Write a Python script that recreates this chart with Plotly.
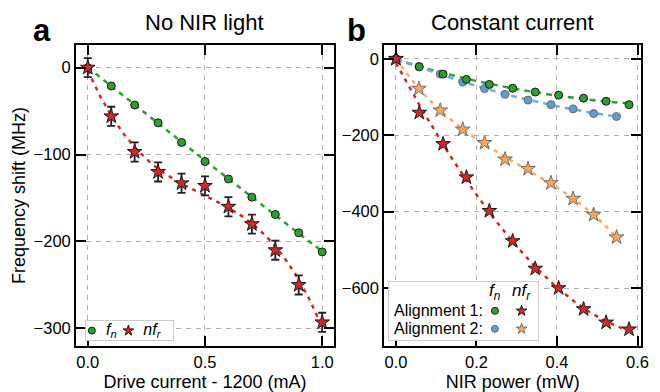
import numpy as np
import plotly.graph_objects as go

# ---------------- data: panel a (No NIR light) ----------------
drive_current = [0.0, 0.1, 0.2, 0.3, 0.4, 0.5, 0.6, 0.7, 0.8, 0.9, 1.0]
a_fn = [0, -21, -43, -63.5, -86, -108, -128, -149, -169, -190, -212]
a_nfr = [0, -56, -97, -120, -133, -136, -160, -180, -210, -250, -293]
a_nfr_err = [11, 11, 11, 11, 11, 11, 11, 11, 11, 11, 11]

# ---------------- data: panel b (Constant current) ----------------
b_power_1 = [0.0, 0.058, 0.117, 0.175, 0.232, 0.290, 0.346, 0.404, 0.466, 0.522, 0.579]
b_fn_1 = [0, -21, -40, -54, -67, -77, -87, -95, -103, -111, -120]
b_nfr_1 = [0, -141, -223, -310, -398, -477, -549, -600, -655, -690, -708]
b_power_2 = [0.0, 0.057, 0.110, 0.166, 0.220, 0.271, 0.328, 0.385, 0.440, 0.491, 0.548]
b_fn_2 = [0, -20, -40, -61, -78, -93, -108, -120, -131, -143, -151]
b_nfr_2 = [0, -78, -135, -185, -220, -263, -288, -325, -366, -408, -467]

# ---------------- ticks / text ----------------
a_xticks = [0.0, 0.5, 1.0]
a_xticklabels = ["0.0", "0.5", "1.0"]
a_yticks = [0, -100, -200, -300]
a_yticklabels = ["0", "\u2212100", "\u2212200", "\u2212300"]
b_xticks = [0.0, 0.2, 0.4, 0.6]
b_xticklabels = ["0.0", "0.2", "0.4", "0.6"]
b_yticks = [0, -200, -400, -600]
b_yticklabels = ["0", "\u2212200", "\u2212400", "\u2212600"]

legend_cols = ["f_n", "nf_r"]
legend_col_text = ["<i>f</i><sub><i>n</i></sub>", "<i>nf</i><sub><i>r</i></sub>"]
legend_rows = ["Alignment 1:", "Alignment 2:"]

# ---------------- colours ----------------
GREEN = "#2ca02c"
RED = "#d62728"
BLUE = "#5f9bd0"
ORANGE = "#ffa556"
BLUE_LINE = "#72acdb"
ORANGE_LINE = "#ffaa5e"

FONT = "Liberation Sans, Arial, sans-serif"


def fit_curve(x, y, deg):
    c = np.polyfit(x, y, deg)
    xs = np.linspace(min(x), max(x), 150)
    return xs, np.polyval(c, xs)


fig = go.Figure()

# ---------- panel a ----------
xs, ys = fit_curve(drive_current, a_fn, 2)
fig.add_trace(go.Scatter(x=xs, y=ys, mode="lines", xaxis="x", yaxis="y",
                         line=dict(color=GREEN, width=2.5, dash="5px,5px")))
xs, ys = fit_curve(drive_current, a_nfr, 3)
fig.add_trace(go.Scatter(x=xs, y=ys, mode="lines", xaxis="x", yaxis="y",
                         line=dict(color=RED, width=2.5, dash="4px,5px")))
fig.add_trace(go.Scatter(x=drive_current, y=a_fn, mode="markers", xaxis="x", yaxis="y",
                         marker=dict(symbol="circle", size=8, color=GREEN,
                                     line=dict(color="#1a1a1a", width=1))))
fig.add_trace(go.Scatter(x=drive_current, y=a_nfr, mode="markers", xaxis="x", yaxis="y",
                         error_y=dict(type="data", array=a_nfr_err, color="#222222",
                                      thickness=1.8, width=4),
                         marker=dict(symbol="star", size=11, color=RED,
                                     line=dict(color="#1a1a1a", width=1))))

# ---------- panel b ----------
for px, py, col, deg, dash in [
    (b_power_1, b_fn_1, GREEN, 2, "6px,5px"),
    (b_power_2, b_fn_2, BLUE_LINE, 2, "6px,5px"),
    (b_power_2, b_nfr_2, ORANGE_LINE, 3, "4px,5px"),
    (b_power_1, b_nfr_1, RED, 3, "4px,5px"),
]:
    xs, ys = fit_curve(px, py, deg)
    fig.add_trace(go.Scatter(x=xs, y=ys, mode="lines", xaxis="x2", yaxis="y2",
                             line=dict(color=col, width=2.5, dash=dash)))

fig.add_trace(go.Scatter(x=b_power_2, y=b_fn_2, mode="markers", xaxis="x2", yaxis="y2",
                         marker=dict(symbol="circle", size=8, color=BLUE,
                                     line=dict(color="#6e6e6e", width=1))))
fig.add_trace(go.Scatter(x=b_power_1, y=b_fn_1, mode="markers", xaxis="x2", yaxis="y2",
                         marker=dict(symbol="circle", size=8, color=GREEN,
                                     line=dict(color="#1a1a1a", width=1))))
fig.add_trace(go.Scatter(x=b_power_2, y=b_nfr_2, mode="markers", xaxis="x2", yaxis="y2",
                         marker=dict(symbol="star", size=11, color=ORANGE,
                                     line=dict(color="#6e6e6e", width=1))))
fig.add_trace(go.Scatter(x=b_power_1, y=b_nfr_1, mode="markers", xaxis="x2", yaxis="y2",
                         marker=dict(symbol="star", size=11, color=RED,
                                     line=dict(color="#1a1a1a", width=1))))

# ---------- legend of panel a (inset axes) ----------
fig.add_trace(go.Scatter(x=[legend_cols[0]], y=["a"], mode="markers+text", xaxis="x3", yaxis="y3",
                         text=["\u00a0\u00a0" + legend_col_text[0]], textposition="middle right",
                         textfont=dict(size=16, color="black"),
                         marker=dict(symbol="circle", size=7, color=GREEN,
                                     line=dict(color="#1a1a1a", width=1))))
fig.add_trace(go.Scatter(x=[legend_cols[1]], y=["a"], mode="markers+text", xaxis="x3", yaxis="y3",
                         text=["\u00a0\u00a0" + legend_col_text[1]], textposition="middle right",
                         textfont=dict(size=16, color="black"),
                         marker=dict(symbol="star", size=8, color=RED,
                                     line=dict(color="#1a1a1a", width=1))))

# ---------- legend of panel b (inset axes, a small 2x2 table) ----------
fig.add_trace(go.Scatter(x=[legend_cols[0]], y=[legend_rows[0]], mode="markers", xaxis="x4", yaxis="y4",
                         marker=dict(symbol="circle", size=7, color=GREEN,
                                     line=dict(color="#1a1a1a", width=1))))
fig.add_trace(go.Scatter(x=[legend_cols[1]], y=[legend_rows[0]], mode="markers", xaxis="x4", yaxis="y4",
                         marker=dict(symbol="star", size=8, color=RED,
                                     line=dict(color="#1a1a1a", width=1))))
fig.add_trace(go.Scatter(x=[legend_cols[0]], y=[legend_rows[1]], mode="markers", xaxis="x4", yaxis="y4",
                         marker=dict(symbol="circle", size=7, color=BLUE,
                                     line=dict(color="#6e6e6e", width=1))))
fig.add_trace(go.Scatter(x=[legend_cols[1]], y=[legend_rows[1]], mode="markers", xaxis="x4", yaxis="y4",
                         marker=dict(symbol="star", size=8, color=ORANGE,
                                     line=dict(color="#6e6e6e", width=1))))

W, H = 660, 392
dom_y = [1 - 353 / H, 1 - 46 / H]

main_axis = dict(
    ticks="inside", ticklen=10, tickwidth=2, tickcolor="black",
    showline=True, linewidth=2, linecolor="black", mirror="ticks",
    showgrid=True, gridcolor="#b0b0b0", gridwidth=1, griddash="5px,5px",
    zeroline=False, tickfont=dict(size=16.5, color="black"),
)
inset_axis = dict(
    showline=True, linewidth=1, linecolor="#cccccc", mirror=True,
    showgrid=False, zeroline=False, ticks="", fixedrange=True,
)

annotations = [
    dict(text="No NIR light", x=(77 + 338) / 2 / W, y=1 - 22.5 / H, xref="paper", yref="paper",
         xanchor="center", yanchor="middle", showarrow=False, font=dict(size=22)),
    dict(text="Constant current", x=(389 + 649) / 2 / W, y=1 - 22.5 / H, xref="paper", yref="paper",
         xanchor="center", yanchor="middle", showarrow=False, font=dict(size=22)),
    dict(text="<b>a</b>", x=31 / W, y=1 - 31 / H, xref="paper", yref="paper",
         xanchor="left", yanchor="middle", showarrow=False, font=dict(size=31)),
    dict(text="<b>b</b>", x=349 / W, y=1 - 31 / H, xref="paper", yref="paper",
         xanchor="left", yanchor="middle", showarrow=False, font=dict(size=31)),
]
# column headers of the panel-b legend table
for col, txt in zip(legend_cols, legend_col_text):
    annotations.append(dict(text=txt, x=col, xref="x4", y=1 - 298 / H, yref="paper",
                            xanchor="center", yanchor="middle", showarrow=False,
                            font=dict(size=17)))

fig.update_layout(
    width=W, height=H,
    margin=dict(l=0, r=0, t=0, b=0),
    paper_bgcolor="white", plot_bgcolor="white",
    font=dict(family=FONT, color="black"),
    showlegend=False, hovermode=False,
    xaxis=dict(main_axis, domain=[77 / W, 338 / W], range=[-0.05, 1.05], anchor="y",
               tickvals=a_xticks, ticktext=a_xticklabels,
               title=dict(text="Drive current - 1200 (mA)", font=dict(size=18), standoff=9)),
    yaxis=dict(main_axis, domain=dom_y, range=[-320, 26], anchor="x",
               tickvals=a_yticks, ticktext=a_yticklabels,
               title=dict(text="Frequency shift (MHz)", font=dict(size=18), standoff=3)),
    xaxis2=dict(main_axis, domain=[389 / W, 649 / W], range=[-0.029, 0.609], anchor="y2",
                tickvals=b_xticks, ticktext=b_xticklabels,
                title=dict(text="NIR power (mW)", font=dict(size=18), standoff=9)),
    yaxis2=dict(main_axis, domain=dom_y, range=[-751, 36], anchor="x2",
                tickvals=b_yticks, ticktext=b_yticklabels),
    xaxis3=dict(inset_axis, domain=[87 / W, 175 / W], anchor="y3", type="category",
                range=[-0.162, 2.216], showticklabels=False),
    yaxis3=dict(inset_axis, domain=[1 - 347 / H, 1 - 328 / H], anchor="x3", type="category",
                range=[-0.5, 0.5], showticklabels=False),
    xaxis4=dict(inset_axis, domain=[394 / W, 545 / W], anchor="y4", type="category",
                range=[-3.963, 1.63], showticklabels=False),
    yaxis4=dict(inset_axis, domain=[1 - 347 / H, 1 - 288 / H], anchor="x4", type="category",
                categoryorder="array", categoryarray=legend_rows[::-1],
                range=[-0.614, 2.59], ticklabelposition="inside", ticklabelstandoff=5,
                tickvals=legend_rows, ticktext=legend_rows,
                tickfont=dict(size=16, color="black")),
    annotations=annotations,
)

fig.write_html("out.html", config={"displayModeBar": False},
               post_script="document.body.style.margin='0';document.body.style.overflow='hidden';")
